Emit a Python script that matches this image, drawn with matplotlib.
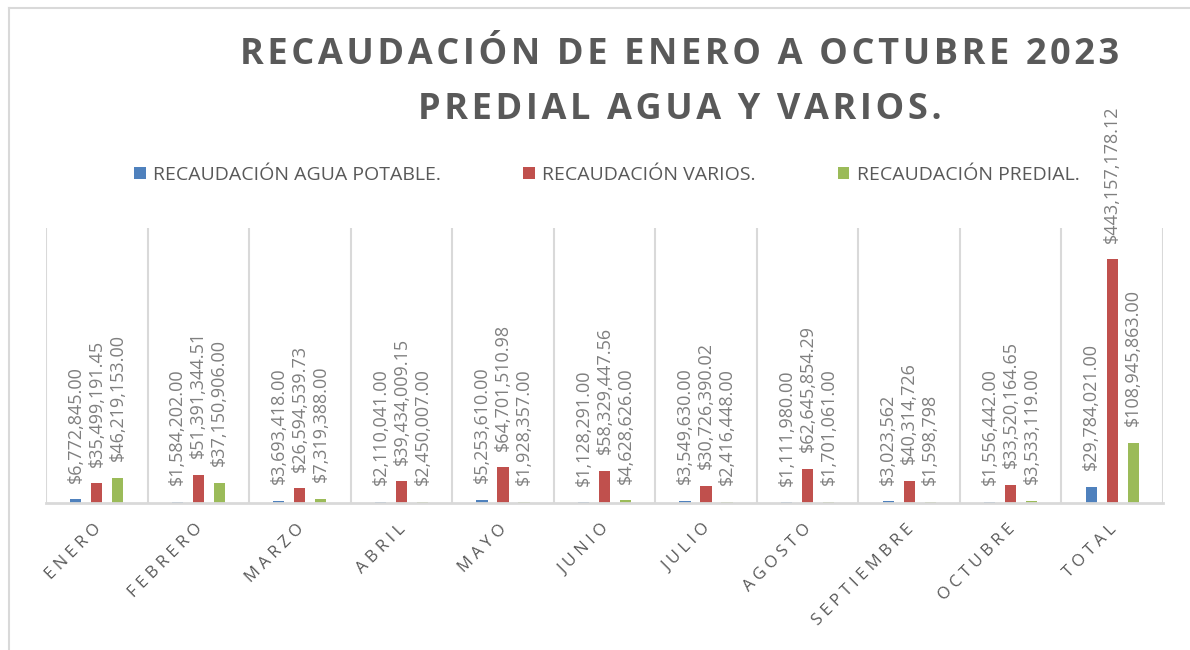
import numpy as np
import matplotlib
matplotlib.use('Agg')
import matplotlib.pyplot as plt
from matplotlib.lines import Line2D

# datos
meses = ['ENERO', 'FEBRERO', 'MARZO', 'ABRIL', 'MAYO', 'JUNIO', 'JULIO',
         'AGOSTO', 'SEPTIEMBRE', 'OCTUBRE', 'TOTAL']
agua = [6772845.00, 1584202.00, 3693418.00, 2110041.00, 5253610.00, 1128291.00,
        3549630.00, 1111980.00, 3023562, 1556442.00, 29784021.00]
varios = [35499191.45, 51391344.51, 26594539.73, 39434009.15, 64701510.98, 58329447.56,
          30726390.02, 62645854.29, 40314726, 33520164.65, 443157178.12]
predial = [46219153.00, 37150906.00, 7319388.00, 2450007.00, 1928357.00, 4628626.00,
           2416448.00, 1701061.00, 1598798, 3533119.00, 108945863.00]
decimales = [2, 2, 2, 2, 2, 2, 2, 2, 0, 2, 2]

series = [('RECAUDACIÓN AGUA POTABLE.', agua, '#4f81bd'),
          ('RECAUDACIÓN VARIOS.', varios, '#c0504d'),
          ('RECAUDACIÓN PREDIAL.', predial, '#9bbb59')]

plt.rcParams['font.family'] = ['Open Sans', 'DejaVu Sans']


def espaciar(texto, sep='\u2009'):
    # Excel usa espaciado entre letras
    return sep.join(texto)


fig = plt.figure(figsize=(11.9, 6.5), dpi=100)
ax = fig.add_axes([46 / 1190, 1 - 503 / 650, (1163 - 46) / 1190, (503 - 228) / 650])

x = np.arange(len(meses))
ancho = 0.11
paso = 0.207
for i, (nombre, vals, color) in enumerate(series):
    pos = x + (i - 1) * paso
    ax.bar(pos, vals, width=ancho, color=color, label=nombre)
    for px, v, d in zip(pos, vals, decimales):
        ax.annotate(f'${v:,.{d}f}', (px, v), xytext=(0, 12), textcoords='offset points',
                    rotation=90, ha='center', va='bottom', fontsize=13,
                    color='#7f7f7f', annotation_clip=False)

ax.set_xlim(-0.5, len(meses) - 0.5)
ax.set_ylim(0, 500e6)
ax.set_yticks([])
for b in np.arange(-0.5, len(meses), 1.0):
    ax.axvline(b, color='#d9d9d9', lw=1.5, zorder=0)
for s in ['top', 'right', 'left']:
    ax.spines[s].set_visible(False)
ax.spines['bottom'].set_color('#d9d9d9')
ax.spines['bottom'].set_linewidth(2)

ax.set_xticks(x)
ax.set_xticklabels([espaciar(m, '\u2009\u200a') for m in meses], rotation=45, ha='right',
                   rotation_mode='anchor', fontsize=12, color='#595959')
ax.tick_params(axis='x', length=0, pad=13)
off = matplotlib.transforms.ScaledTranslation(-4 / 100, 0, fig.dpi_scale_trans)
for lbl in ax.get_xticklabels():
    lbl.set_transform(lbl.get_transform() + off)

fig.text(0.571, 1 - 55 / 650, espaciar('RECAUDACIÓN DE ENERO A OCTUBRE 2023', '\u200a'),
         ha='center', va='center', fontsize=26, fontweight='bold', color='#595959')
fig.text(0.571, 1 - 110 / 650, espaciar('PREDIAL AGUA Y VARIOS.', '\u200a'),
         ha='center', va='center', fontsize=26, fontweight='bold', color='#595959')

fig.legend(loc='center', bbox_to_anchor=(0.51, 1 - 175 / 650), ncol=3, frameon=False,
           fontsize=14, handlelength=0.6, handleheight=0.6, handletextpad=0.4,
           columnspacing=4.2, labelcolor='#595959')

# borde del area del grafico
fig.add_artist(Line2D([9 / 1190, 1], [1 - 8 / 650, 1 - 8 / 650], color='#d9d9d9', lw=1.5))
fig.add_artist(Line2D([9 / 1190, 9 / 1190], [0, 1 - 8 / 650], color='#d9d9d9', lw=1.5))

fig.savefig('out.png', dpi=100)
